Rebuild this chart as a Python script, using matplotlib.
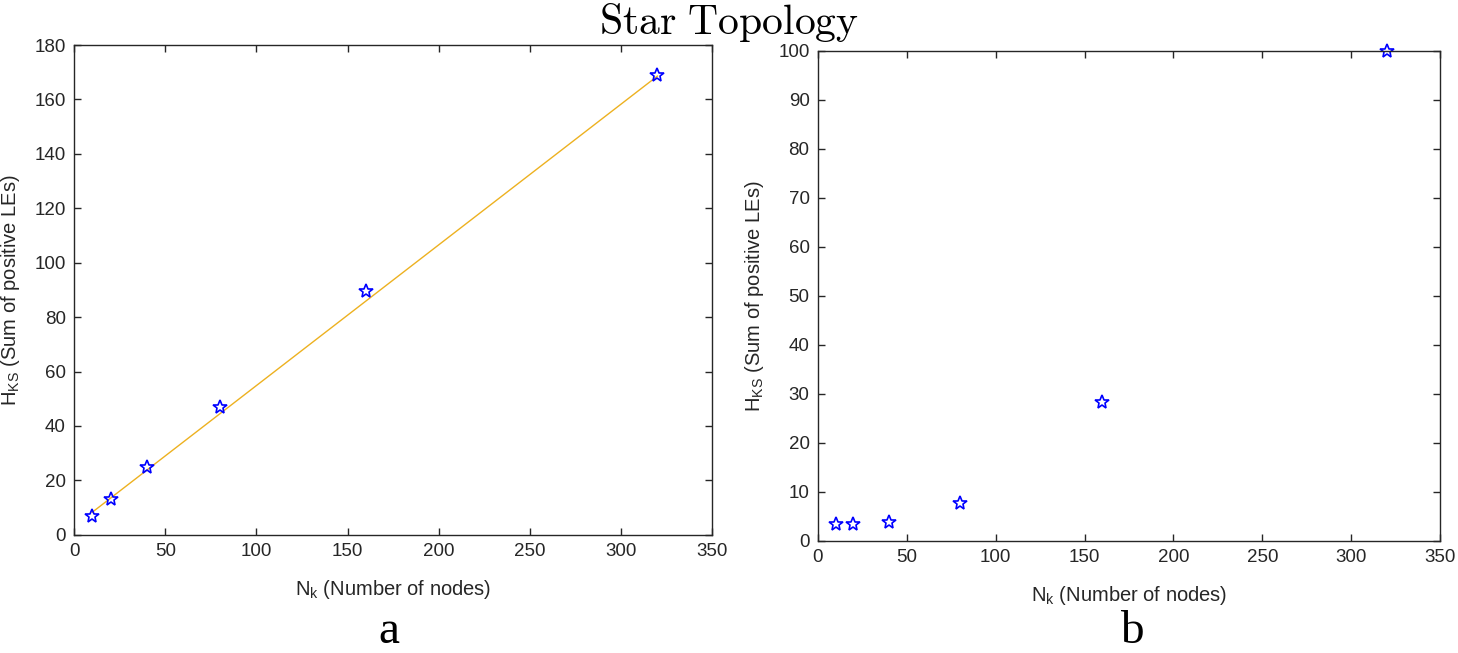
import matplotlib.pyplot as plt

# data
nodes = [10, 20, 40, 80, 160, 320]
hks_a = [6.8, 13.3, 25.0, 47.0, 89.5, 169.0]
fit_x = [10, 320]
fit_y = [8.3, 168.6]
hks_b = [3.5, 3.5, 3.8, 7.6, 28.3, 100.0]

xticks = [0, 50, 100, 150, 200, 250, 300, 350]
yticks_a = list(range(0, 181, 20))
yticks_b = list(range(0, 101, 10))

plt.rcParams['font.family'] = ['Liberation Sans', 'DejaVu Sans']
plt.rcParams['mathtext.default'] = 'regular'

fig = plt.figure(figsize=(14.58, 6.53), dpi=100)
ax_a = fig.add_axes([0.0508, 0.181, 0.4376, 0.750])
ax_b = fig.add_axes([0.5610, 0.172, 0.4267, 0.750])

grey = '#262626'


def style(ax, yticks):
    ax.set_xlim(0, 350)
    ax.set_ylim(yticks[0], yticks[-1])
    ax.set_xticks(xticks)
    ax.set_yticks(yticks)
    ax.tick_params(direction='in', top=True, right=True, length=5, width=1.0,
                   colors=grey, labelsize=13.5, labelcolor=grey, pad=6)
    for s in ax.spines.values():
        s.set_color(grey)
        s.set_linewidth(1.0)
    ax.set_xlabel('N$_k$ (Number of nodes)', fontsize=14.5, color=grey, labelpad=13)
    ax.set_ylabel('H$_{KS}$ (Sum of positive LEs)', fontsize=14.5, color=grey, labelpad=9)


ax_a.plot(fit_x, fit_y, '-', color='#EDB120', lw=1.0)
ax_a.plot(nodes, hks_a, linestyle='none', marker='*', ms=10, mfc='none', mec='b', mew=1.2)
style(ax_a, yticks_a)

ax_b.plot(nodes, hks_b, linestyle='none', marker='*', ms=10, mfc='none', mec='b', mew=1.2,
          clip_on=False)
style(ax_b, yticks_b)

fig.text(0.5, 0.966, r'$\mathrm{Star\ Topology}$', ha='center', va='center',
         fontsize=30, math_fontfamily='cm')
fig.text(0.267, 0.016, 'a', ha='center', va='baseline', fontsize=34, family='Liberation Serif')
fig.text(0.776, 0.016, 'b', ha='center', va='baseline', fontsize=34, family='Liberation Serif')

fig.savefig('out.png', dpi=100)
